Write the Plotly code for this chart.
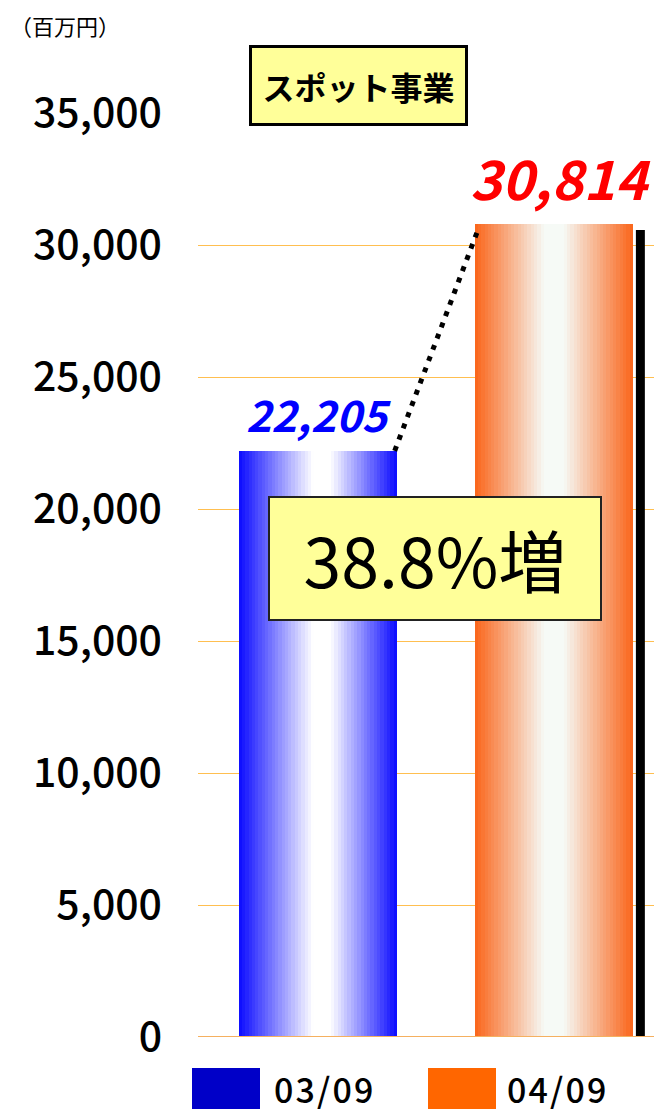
import plotly.graph_objects as go

# ---- data ----
categories = ["03/09", "04/09"]
values = [22205, 30814]
legend_colors = ["#0000C8", "#FF6600"]
label_colors = ["#0000FF", "#FF0000"]
title_text = "スポット事業"
unit_text = "（百万円）"
y_ticks = [0, 5000, 10000, 15000, 20000, 25000, 30000, 35000]

# gradient stops (position, rgb) for the two bars
grad_blue = [(0.0, (10, 10, 255)), (0.47, (255, 255, 255)), (0.58, (255, 255, 255)), (1.0, (10, 10, 255))]
grad_orange = [(0.0, (250, 100, 25)), (0.44, (246, 250, 246)), (0.56, (246, 250, 246)), (1.0, (250, 100, 25))]
gradients = [grad_blue, grad_orange]

W, H = 654, 1112
L, R, T, B = 198, 0, 113, 75
PW, PH = W - L - R, H - T - B
PX_PER_UNIT = 236.0
X0_PX = 318 - L  # pixel offset of category 0 inside plot
x_range = [-X0_PX / PX_PER_UNIT, (PW - X0_PX) / PX_PER_UNIT]
BAR_W = 0.67
K = 48
FONT = "Noto Sans CJK JP"


def interp(stops, t):
    for (p0, c0), (p1, c1) in zip(stops[:-1], stops[1:]):
        if p0 <= t <= p1:
            f = 0 if p1 == p0 else (t - p0) / (p1 - p0)
            c = [round(a + (b - a) * f) for a, b in zip(c0, c1)]
            return f"rgb({c[0]},{c[1]},{c[2]})"
    c = stops[-1][1]
    return f"rgb({c[0]},{c[1]},{c[2]})"


def px_x(X):
    return (X - L) / PW


def px_y(Y):
    return (H - B - Y) / PH


fig = go.Figure()

# gradient bars made of thin bar strips
for i, (cat, v) in enumerate(zip(categories, values)):
    xs, cols = [], []
    for k in range(K):
        t = (k + 0.5) / K
        xs.append(i - BAR_W / 2 + t * BAR_W)
        cols.append(interp(gradients[i], t))
    fig.add_trace(go.Bar(
        x=xs, y=[v] * K, width=[BAR_W / K * 1.15] * K,
        marker=dict(color=cols, line=dict(width=0)),
        name=cat, showlegend=False, hoverinfo="skip",
    ))

# dark side shadow on the second bar
fig.add_shape(type="rect", xref="x", yref="y",
              x0=1 + BAR_W / 2 + 0.012, x1=1 + BAR_W / 2 + 0.05,
              y0=0, y1=values[1] * 0.992,
              fillcolor="black", line=dict(width=0), layer="above")

# dotted connector
fig.add_trace(go.Scatter(
    x=[0 + BAR_W / 2 - 0.01, 1 - BAR_W / 2 + 0.01],
    y=[values[0], values[1] * 0.99],
    mode="lines", line=dict(color="black", width=5, dash="5px,7px"),
    showlegend=False, hoverinfo="skip",
))

# value labels
fig.add_annotation(x=0, y=values[0], xref="x", yref="y", text=f"{values[0]:,}",
                   showarrow=False, yshift=38, xshift=0,
                   font=dict(family=FONT, size=43, color=label_colors[0],
                             style="italic", weight="bold"))
fig.add_annotation(x=1, y=values[1], xref="x", yref="y", text=f"{values[1]:,}",
                   showarrow=False, yshift=47, xshift=6,
                   font=dict(family=FONT, size=54, color=label_colors[1],
                             style="italic", weight="bold"))

# growth box
growth = (values[1] / values[0] - 1) * 100
fig.add_annotation(x=px_x(435), y=px_y(558), xref="paper", yref="paper",
                   text=f"{growth:.1f}%増", showarrow=False,
                   width=330, height=121, bgcolor="#FFFF99", bordercolor="#222222",
                   borderwidth=2, borderpad=0,
                   font=dict(family=FONT, size=68, color="black"))

# title box
fig.add_annotation(x=px_x(358.5), y=px_y(44.5), xref="paper", yref="paper",
                   text=title_text, showarrow=False,
                   width=213, height=75, bgcolor="#FFFF99", bordercolor="black",
                   borderwidth=3, borderpad=0,
                   font=dict(family=FONT, size=32, color="black", weight="bold"))

# unit label
fig.add_annotation(x=px_x(8), y=px_y(25), xref="paper", yref="paper",
                   text=unit_text, showarrow=False, xanchor="left", yanchor="middle",
                   font=dict(family=FONT, size=22, color="black"))

# custom legend
leg_sq_x = [192, 428]
leg_txt_x = [272, 505]
for i, cat in enumerate(categories):
    fig.add_shape(type="rect", xref="paper", yref="paper",
                  x0=px_x(leg_sq_x[i]), x1=px_x(leg_sq_x[i] + 68),
                  y0=px_y(1068), y1=px_y(1109),
                  fillcolor=legend_colors[i], line=dict(width=0))
    fig.add_annotation(x=px_x(leg_txt_x[i]), y=px_y(1088), xref="paper", yref="paper",
                       text="\u200a".join(cat), showarrow=False, xanchor="left", yanchor="middle",
                       font=dict(family=FONT, size=34, color="black", weight=500))

fig.update_layout(
    width=W, height=H, margin=dict(l=L, r=R, t=T, b=B),
    paper_bgcolor="white", plot_bgcolor="white",
    barmode="overlay", bargap=0, showlegend=False,
    xaxis=dict(range=x_range, showticklabels=False, showgrid=False, zeroline=False,
               showline=False, fixedrange=True),
    yaxis=dict(range=[0, 35000], tickvals=y_ticks, tickformat=",",
               showgrid=True, gridcolor="#FFBF50", gridwidth=1,
               zeroline=False, showline=False, ticks="", ticklabelstandoff=35,
               tickfont=dict(family=FONT, size=41, color="black", weight=500)),
)
fig.add_shape(type="line", xref="paper", yref="y", x0=0, x1=1, y0=0, y1=0,
              line=dict(color="#F5B060", width=2), layer="above")

fig.write_html("out.html", config={"displayModeBar": False},
               post_script="document.body.style.margin='0';document.body.style.overflow='hidden';")
